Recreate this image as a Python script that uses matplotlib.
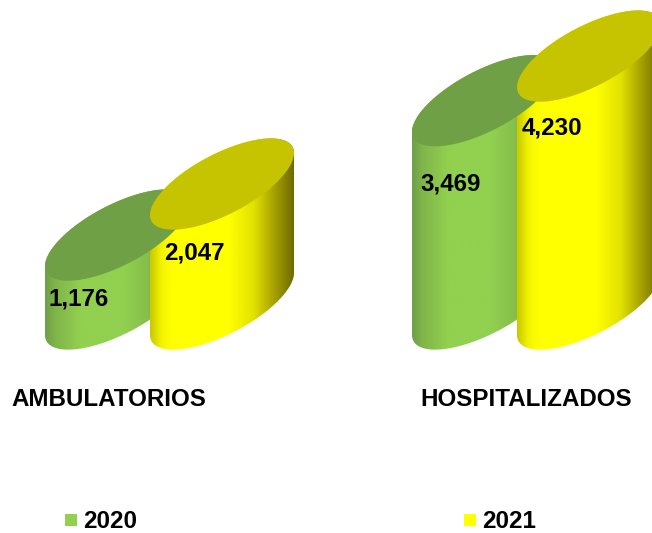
import numpy as np
import matplotlib
matplotlib.use("Agg")
import matplotlib.pyplot as plt
from matplotlib.colors import LinearSegmentedColormap
from matplotlib.patches import Polygon, Rectangle

plt.rcParams['font.family'] = ['Liberation Sans', 'DejaVu Sans']

categories = ["AMBULATORIOS", "HOSPITALIZADOS"]
series_names = ["2020", "2021"]
values_2020 = [1176, 3469]
values_2021 = [2047, 4230]

# chart is laid out in pixels, y is value * scale above the base line
W, H = 652, 533
base_y = 304
scale = 0.0586
rx, cos_y, sin_y = 72, 31, 33.5  # tilted ellipse shape in px


def val_to_px(v):
    return base_y - v * scale


green_cmap = LinearSegmentedColormap.from_list("green", [
    (0, "#6f9f48"), (0.07, "#80b54a"), (0.25, "#92d050"), (0.55, "#92d050"), (0.8, "#7fb548"), (1, "#6a9a40")])
yellow_cmap = LinearSegmentedColormap.from_list("yellow", [
    (0, "#c8c800"), (0.08, "#f4f400"), (0.15, "#ffff00"), (0.55, "#ffff00"), (0.72, "#e2e200"), (0.88, "#a09a00"), (1, "#6e6a00")])


def ellipse(cx, cy, t):
    return np.column_stack([cx + rx * np.cos(t), cy - cos_y * np.cos(t) - sin_y * np.sin(t)])


def cylinder(ax, cx, value, cmap, top_color):
    top = val_to_px(value)
    t_low = np.linspace(np.pi, 2 * np.pi, 80)
    t_up = np.linspace(0, np.pi, 80)
    body = np.vstack([ellipse(cx, base_y, t_low), ellipse(cx, top, t_up)])
    poly = Polygon(body, closed=True, facecolor="none", edgecolor="none")
    ax.add_patch(poly)
    grad = np.linspace(0, 1, 256).reshape(1, -1)
    im = ax.imshow(grad, cmap=cmap, aspect="auto", extent=(cx - rx, cx + rx, H, 0), interpolation="bilinear")
    im.set_clip_path(poly)
    t_all = np.linspace(0, 2 * np.pi, 160)
    ax.add_patch(Polygon(ellipse(cx, top, t_all), closed=True, facecolor=top_color, edgecolor="none"))


fig = plt.figure(figsize=(W / 100, H / 100), dpi=100)
ax = fig.add_axes([0, 0, 1, 1])

centers_2020 = [117, 484]
centers_2021 = [222, 589]
label_x_2020 = [49, 420]
label_x_2021 = [164, 522]
label_y_2020 = [299, 184]
label_y_2021 = [253, 128]
cat_x = [108.5, 526.5]

for i in range(len(categories)):
    cylinder(ax, centers_2020[i], values_2020[i], green_cmap, "#6fa045")
    cylinder(ax, centers_2021[i], values_2021[i], yellow_cmap, "#c6c300")
    ax.text(label_x_2020[i], label_y_2020[i], f"{values_2020[i]:,}", fontsize=17.4, fontweight="bold",
            ha="left", va="center", color="black")
    ax.text(label_x_2021[i], label_y_2021[i], f"{values_2021[i]:,}", fontsize=17.4, fontweight="bold",
            ha="left", va="center", color="black")
    ax.text(cat_x[i], 399, categories[i], fontsize=17.4, fontweight="bold", ha="center", va="center", color="black")

# legend
ax.add_patch(Rectangle((65, 514), 12, 12, facecolor="#92d050", edgecolor="none"))
ax.text(83, 521, series_names[0], fontsize=17.4, fontweight="bold", ha="left", va="center", color="black")
ax.add_patch(Rectangle((464, 514), 12, 12, facecolor="#ffff00", edgecolor="none"))
ax.text(482, 521, series_names[1], fontsize=17.4, fontweight="bold", ha="left", va="center", color="black")

ax.set_xlim(0, W)
ax.set_ylim(H, 0)
ax.axis("off")

fig.savefig("out.png", dpi=100)
